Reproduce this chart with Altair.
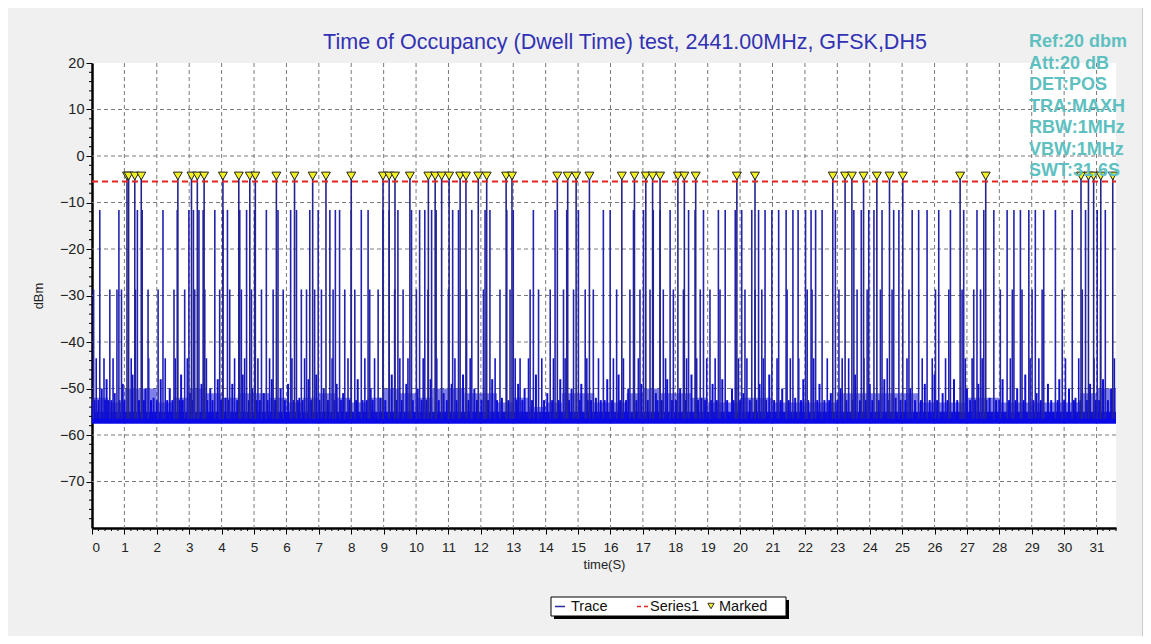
import altair as alt
import pandas as pd

TITLE = "Time of Occupancy (Dwell Time) test, 2441.00MHz, GFSK,DH5"
X_TICKS = list(range(0, 32))
Y_TICKS = [20, 10, 0, -10, -20, -30, -40, -50, -60, -70]
GRID_X = list(range(1, 32))
GRID_Y = [10, 0, -10, -20, -30, -40, -50, -60, -70]
X_MAX = 31.6
Y_MIN, Y_MAX = -80, 20
LIMIT = -5.5          # Series1 (red dashed)
BASE = -56.5          # spikes rise from the noise floor

FLOOR_T = [0.0, 31.6]
FLOOR_LO = [-57.6, -57.6]
FLOOR_HI = [-55.0, -55.0]

# upper edge of the dense blue region above the floor, read every 0.5 s
DENSE_T = [0.0, 0.5, 1.0, 1.5, 2.0, 2.5, 3.0, 3.5, 4.0, 4.5, 5.0, 5.5, 6.0, 6.5, 7.0,
           7.5, 8.0, 8.5, 9.0, 9.5, 10.0, 10.5, 11.0, 11.5, 12.0, 12.5, 13.0, 13.5,
           14.0, 14.5, 15.0, 15.5, 16.0, 16.5, 17.0, 17.5, 18.0, 18.5, 19.0, 19.5,
           20.0, 20.5, 21.0, 21.5, 22.0, 22.5, 23.0, 23.5, 24.0, 24.5, 25.0, 25.5,
           26.0, 26.5, 27.0, 27.5, 28.0, 28.5, 29.0, 29.5, 30.0, 30.5, 31.0, 31.6]
DENSE_TOP = [-52, -53, -50, -50, -53, -52, -50, -51, -52, -51, -51, -52, -53, -52, -51,
             -52, -53, -52, -50, -51, -52, -50, -50, -51, -51, -53, -52, -54, -53, -51,
             -51, -53, -53, -51, -50, -51, -51, -52, -53, -53, -52, -52, -53, -53, -53,
             -53, -51, -51, -51, -51, -51, -53, -53, -53, -52, -52, -53, -53, -53, -53,
             -53, -51, -50, -51]

# dwell pulses (Marked)
MARK_T = [1.08, 1.13, 1.32, 1.52, 2.65, 3.07, 3.25, 3.46, 4.04, 4.53, 4.87, 5.04,
          5.69, 6.25, 6.81, 7.22, 8.00, 8.98, 9.17, 9.35, 9.81, 10.38, 10.59, 10.79,
          11.02, 11.36, 11.54, 11.92, 12.18, 12.78, 12.96, 14.36, 14.68, 14.94, 15.35,
          16.35, 16.74, 17.09, 17.30, 17.53, 18.08, 18.28, 18.63, 19.90, 20.46, 22.86,
          23.24, 23.45, 23.81, 24.22, 24.61, 25.02, 26.79, 27.58, 30.52, 30.75, 30.91,
          31.13, 31.50]
PULSE_PEAK = -4.0
MARK_LEVEL = -4.3

SPIKE12_T = [0.24, 0.83, 1.40, 1.55, 2.19, 2.63, 2.99, 3.13, 3.30, 3.43, 3.79, 4.04,
             4.18, 4.56, 4.77, 5.02, 5.38, 5.74, 6.13, 6.31, 6.72, 6.98, 7.34, 7.51,
             7.64, 8.00, 8.31, 8.52, 8.98, 9.17, 9.44, 9.86, 10.11, 10.27, 10.48, 10.62,
             11.13, 11.31, 11.72, 12.13, 12.28, 12.80, 13.00, 13.62, 14.29, 14.65, 15.01,
             15.78, 15.99, 16.71, 17.02, 17.32, 17.53, 17.84, 18.41, 18.61, 18.87, 19.33,
             19.54, 19.85, 20.05, 20.36, 20.57, 20.77, 20.98, 21.19, 21.42, 21.63, 21.79,
             22.02, 22.19, 22.33, 22.53, 22.94, 23.51, 23.74, 23.97, 24.13, 24.38, 24.74,
             24.90, 25.31, 25.51, 25.77, 26.13, 26.49, 26.90, 27.31, 27.52, 27.83, 28.24,
             28.45, 28.65, 28.91, 29.11, 29.37, 29.73, 30.25, 30.66, 31.02, 31.27]
SPIKE12_PEAK = -11.6

SPIKE29_T = [0.05, 0.55, 0.77, 0.91, 1.34, 1.73, 2.04, 2.53, 2.86, 3.17, 3.48, 3.94,
             4.25, 4.61, 4.92, 5.23, 5.59, 5.90, 6.46, 6.62, 6.87, 7.08, 7.44, 7.80,
             8.11, 8.57, 8.83, 9.34, 9.60, 10.01, 10.37, 11.00, 11.56, 12.08, 12.59,
             12.90, 13.52, 13.78, 14.14, 14.55, 14.86, 15.22, 15.47, 16.19, 16.60, 16.91,
             17.22, 17.63, 17.94, 18.25, 18.77, 19.07, 19.38, 20.15, 20.46, 20.67, 21.45,
             22.07, 22.22, 23.05, 23.61, 23.92, 24.33, 24.69, 25.21, 26.03, 26.44, 26.85,
             27.21, 27.42, 28.03, 28.40, 28.70, 29.01, 29.32, 29.94, 30.56, 31.12]
SPIKE29_PEAK = -28.7

SPIKE45_T = [0.13, 0.37, 0.65, 1.21, 1.75, 2.26, 2.57, 2.94, 3.53, 4.40, 4.71, 5.12,
             5.48, 6.17, 6.56, 7.41, 7.90, 8.42, 8.72, 9.50, 9.75, 10.22, 10.64, 11.20,
             11.67, 12.44, 13.06, 13.21, 13.47, 13.88, 14.24, 14.60, 15.27, 15.63, 16.09,
             16.40, 16.86, 17.70, 18.35, 18.66, 18.97, 19.23, 19.95, 20.21, 20.72, 21.14,
             21.55, 21.81, 22.27, 22.69, 23.15, 23.35, 23.82, 24.54, 25.15, 25.62, 25.93,
             26.34, 26.95, 27.16, 27.47, 28.34, 28.95, 29.22, 30.04, 30.45, 30.92, 31.55]
SPIKE45_PEAK = -43.5

LOW_T = [0.02, 0.30, 0.45, 0.70, 0.95, 1.25, 1.65, 1.90, 2.12, 2.40, 2.75, 3.02, 3.38,
         3.65, 3.88, 4.12, 4.33, 4.65, 4.95, 5.30, 5.55, 5.82, 6.05, 6.40, 6.68, 6.92,
         7.15, 7.55, 7.75, 8.20, 8.60, 8.90, 9.25, 9.70, 10.05, 10.45, 10.85, 11.10,
         11.45, 11.80, 12.35, 12.65, 13.15, 13.35, 13.70, 14.05, 14.45, 14.80, 15.10,
         15.55, 15.90, 16.25, 16.55, 16.95, 17.40, 17.75, 18.15, 18.50, 18.80, 19.15,
         19.45, 19.75, 20.10, 20.60, 20.90, 21.30, 21.70, 21.95, 22.45, 22.80, 23.10,
         23.55, 24.00, 24.45, 24.80, 25.25, 25.70, 26.00, 26.25, 26.60, 27.00, 27.35,
         27.70, 28.10, 28.55, 28.80, 29.15, 29.50, 29.85, 30.15, 30.35, 30.80, 31.20,
         31.45]
LOW_PEAK = [-53, -50, -48, -51, -49, -47, -50, -52, -48, -50, -47, -51, -49, -50, -48,
            -52, -49, -47, -50, -51, -48, -50, -49, -52, -48, -47, -50, -49, -51, -48,
            -50, -52, -47, -49, -50, -48, -51, -49, -47, -50, -48, -52, -49, -50, -47,
            -51, -48, -50, -49, -52, -48, -47, -50, -49, -51, -48, -50, -47, -52, -49,
            -48, -50, -51, -49, -47, -50, -52, -48, -49, -51, -50, -47, -49, -48, -52,
            -50, -49, -47, -51, -48, -50, -49, -52, -48, -50, -47, -51, -49, -48, -50,
            -52, -49, -48, -50]

# short "grass" spikes just above the noise floor
GRASS_T = [0.08, 0.20, 0.40, 0.50, 0.60, 0.85, 1.00, 1.45, 1.60, 1.82, 2.00, 2.32, 2.48,
           2.70, 2.80, 3.10, 3.56, 3.72, 3.98, 4.22, 4.48, 4.84, 5.08, 5.18, 5.42, 5.65,
           5.95, 6.22, 6.35, 6.50, 6.76, 7.02, 7.28, 7.48, 7.68, 7.95, 8.15, 8.35, 8.48,
           8.66, 9.05, 9.40, 9.56, 9.90, 10.17, 10.32, 10.70, 10.95, 11.25, 11.62, 11.88,
           12.02, 12.22, 12.50, 12.85, 13.10, 13.28, 13.58, 13.95, 14.20, 14.40, 14.72,
           15.05, 15.30, 15.40, 15.70, 15.82, 16.05, 16.30, 16.48, 16.80, 17.15, 17.45,
           17.58, 17.90, 18.02, 18.32, 18.70, 18.92, 19.10, 19.28, 19.60, 19.80, 20.00,
           20.30, 20.50, 20.80, 21.05, 21.25, 21.50, 21.88, 22.10, 22.38, 22.60, 22.75,
           23.00, 23.28, 23.48, 23.70, 23.88, 24.08, 24.28, 24.60, 24.95, 25.10, 25.40,
           25.58, 25.85, 26.08, 26.40, 26.70, 27.10, 27.25, 27.60, 27.90, 28.00, 28.30,
           28.50, 28.75, 29.05, 29.28, 29.60, 29.80, 30.00, 30.30, 30.50, 30.70, 30.98,
           31.08, 31.35]
GRASS_PEAK = -52.5

INFO_LINES = ["Ref:20 dbm", "Att:20 dB", "DET:POS", "TRA:MAXH",
              "RBW:1MHz", "VBW:1MHz", "SWT:31.6S"]
LEGEND = ["Trace", "Series1", "Marked"]

FONT = "Liberation Sans"
TRACE_COLOR = "#2323b0"
W, H = 1024, 465

xs = alt.Scale(domain=[0, X_MAX], nice=False, zero=False)
ys = alt.Scale(domain=[Y_MIN, Y_MAX], nice=False, zero=False)

AX = alt.Axis(
    values=X_TICKS, format="d", title="time(S)", grid=False,
    labelFontSize=13.5, labelColor="#222", labelFont=FONT, labelPadding=6,
    tickSize=6, tickColor="#000", domainColor="#000", domainWidth=2.5,
    titleFont=FONT, titleFontSize=13, titleFontWeight="normal",
    titleColor="#222", titlePadding=5)
AY = alt.Axis(
    values=Y_TICKS, format="d", title="dBm", grid=False,
    labelFontSize=14.5, labelColor="#222", labelFont=FONT, labelPadding=2,
    tickSize=6, tickColor="#000", domainColor="#000", domainWidth=2.5,
    titleFont=FONT, titleFontSize=13, titleFontWeight="normal",
    titleColor="#222", titlePadding=14)


def X(f):
    return alt.X(f, scale=xs, axis=AX)


def Y(f):
    return alt.Y(f, scale=ys, axis=AY)


one = pd.DataFrame({"a": [0]})

# grid
gx = alt.Chart(pd.DataFrame({"t": GRID_X})).mark_rule(
    color="#7a7a7a", strokeDash=[4, 3], strokeWidth=1
).encode(x=X("t:Q"))
gy = alt.Chart(pd.DataFrame({"v": GRID_Y})).mark_rule(
    color="#7a7a7a", strokeDash=[4, 3], strokeWidth=1
).encode(y=Y("v:Q"))

# noise floor
floor = alt.Chart(pd.DataFrame({"t": FLOOR_T, "v": FLOOR_LO, "hi": FLOOR_HI})).mark_area(
    color="#0a0ae6"
).encode(x=X("t:Q"), y=Y("v:Q"), y2="hi:Q")

dense = alt.Chart(pd.DataFrame({"t": DENSE_T, "v": DENSE_TOP})).mark_area(
    color="#1515d8", interpolate="step-after", opacity=0.55
).encode(x=X("t:Q"), y=Y("v:Q"), y2=alt.datum(-56))


def spikes(times, peaks, width=1.6, color=TRACE_COLOR):
    df = pd.DataFrame({"t": times, "v": peaks})
    return alt.Chart(df).mark_rule(color=color, strokeWidth=width).encode(
        x=X("t:Q"), y=Y("v:Q"), y2=alt.datum(BASE),
    )


grass = spikes(GRASS_T, [GRASS_PEAK] * len(GRASS_T), width=2, color="#0c0ce0")
low = spikes(LOW_T, LOW_PEAK, width=2, color="#1010d2")
s45 = spikes(SPIKE45_T, [SPIKE45_PEAK] * len(SPIKE45_T), color="#1818c4")
s29 = spikes(SPIKE29_T, [SPIKE29_PEAK] * len(SPIKE29_T))
s12 = spikes(SPIKE12_T, [SPIKE12_PEAK] * len(SPIKE12_T))
pulses = spikes(MARK_T, [PULSE_PEAK] * len(MARK_T), width=1.6, color="#24248c")

limit = alt.Chart(pd.DataFrame({"t": [0, X_MAX], "v": [LIMIT, LIMIT]})).mark_line(
    color="#e3261f", strokeDash=[6, 4], strokeWidth=2
).encode(x=X("t:Q"), y=Y("v:Q"))

marks = alt.Chart(pd.DataFrame({"t": MARK_T, "v": [MARK_LEVEL] * len(MARK_T)})).mark_point(
    shape="triangle-down", filled=True, fill="#f2f222", stroke="#222",
    strokeWidth=1, size=80, opacity=1
).encode(x=X("t:Q"), y=Y("v:Q"))

# minor ticks
mx = alt.Chart(pd.DataFrame({"t": [i / 5 for i in range(0, 159) if i % 5]})).mark_rule(
    color="#000", strokeWidth=1
).encode(x=X("t:Q"), y=alt.value(H), y2=alt.value(H + 3))
my = alt.Chart(pd.DataFrame({"v": [v for v in range(-80, 21, 2) if v % 10]})).mark_rule(
    color="#000", strokeWidth=1
).encode(y=Y("v:Q"), x=alt.value(0), x2=alt.value(-3))

# title as text
title = alt.Chart(one).mark_text(
    font=FONT, fontSize=21.5, color="#3232b4", align="center", baseline="middle"
).encode(x=alt.value(533), y=alt.value(-20), text=alt.value(TITLE))

# info text, top right
info = alt.Chart(one).mark_text(
    font=FONT, fontSize=18, fontWeight="bold", color="#5ec0c0",
    align="left", baseline="middle", lineHeight=21.5
).encode(x=alt.value(937), y=alt.value(-21), text=alt.value(INFO_LINES))

# legend box
shadow = alt.Chart(one).mark_rect(color="#000").encode(
    x=alt.value(462), x2=alt.value(697), y=alt.value(537), y2=alt.value(556))
box = alt.Chart(one).mark_rect(fill="white", stroke="#000", strokeWidth=1).encode(
    x=alt.value(459), x2=alt.value(694), y=alt.value(534), y2=alt.value(553))
leg_line = alt.Chart(one).mark_rule(color="#2a2a9a", strokeWidth=1.5).encode(
    x=alt.value(463), x2=alt.value(473), y=alt.value(543.5))
leg_dash = alt.Chart(one).mark_rule(color="#e3261f", strokeWidth=1.5, strokeDash=[4, 3]).encode(
    x=alt.value(545), x2=alt.value(557), y=alt.value(543.5))
leg_tri = alt.Chart(one).mark_point(
    shape="triangle-down", filled=True, fill="#f2f222", stroke="#333", strokeWidth=1,
    size=40, opacity=1
).encode(x=alt.value(619), y=alt.value(543))
leg_txt = [
    alt.Chart(one).mark_text(font=FONT, fontSize=14.5, color="#111", align="left",
                             baseline="middle").encode(
        x=alt.value(px), y=alt.value(544), text=alt.value(txt))
    for px, txt in zip([479, 558, 627], LEGEND)
]

frame = alt.Chart(one).mark_rule(color="#a6a6a6", strokeWidth=1).encode(
    x=alt.value(1051), y=alt.value(-55), y2=alt.value(573))

chart = alt.layer(
    gx, gy, floor, dense, grass, low, s45, s29, s12, pulses, limit, marks, mx, my,
    title, info, shadow, box, leg_line, leg_dash, leg_tri, *leg_txt, frame
).properties(
    width=W, height=H,
    autosize=alt.AutoSizeParams(type="none"),
    padding={"left": 84, "top": 55, "right": 27, "bottom": 108},
    background="#f0f0f0",
).configure_view(fill="white", stroke=None)

chart.save("out.html", embed_options={"renderer": "svg", "actions": False})
